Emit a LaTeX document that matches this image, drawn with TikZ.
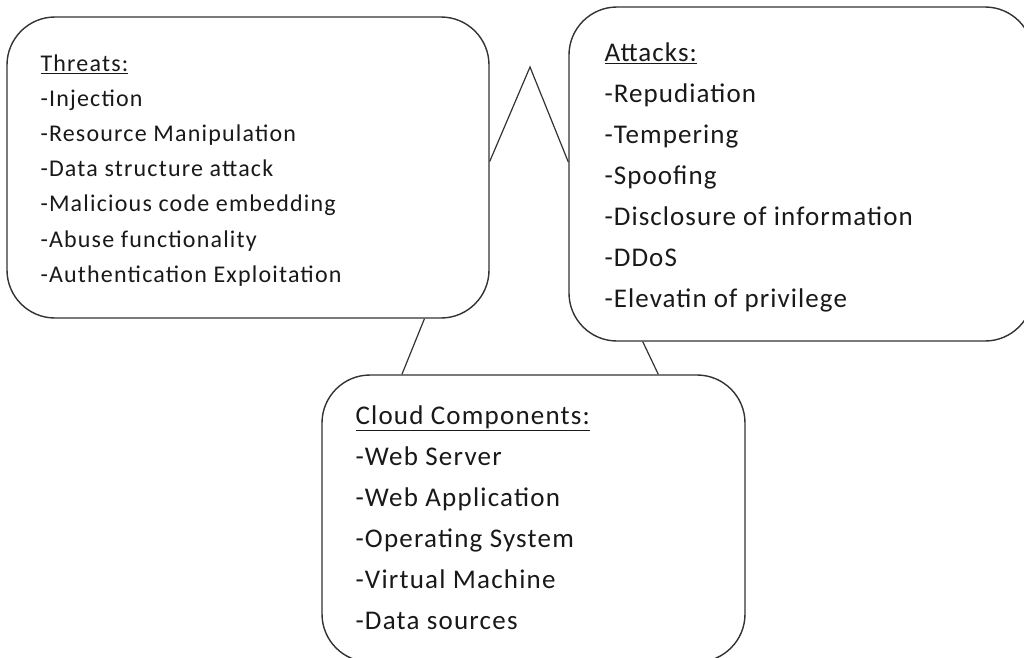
\documentclass[tikz,border=0pt]{standalone}
\usepackage{fontspec}
\setmainfont{Carlito}
\usetikzlibrary{calc,positioning}

\tikzset{
  roundbox/.style={draw=black!80, line width=1.4pt, rounded corners=48pt, fill=white},
  listtext/.style={align=left, inner sep=0pt, text=black!90},
  link/.style={draw=black!80, line width=1.2pt}
}

\begin{document}
\begin{tikzpicture}[x=1pt,y=-1pt]
  \useasboundingbox (0,0) rectangle (1024,657);
  \clip (0,0) rectangle (1024,657);
  % the three boxes
  \node[roundbox, minimum width=482pt, minimum height=301pt] (threats) at (248,167.5) {};
  \node[roundbox, minimum width=464pt, minimum height=334pt] (attacks) at (801,174) {};
  \node[roundbox, minimum width=423pt, minimum height=287pt] (cloud) at (533.5,518.5) {};
  % their lists
  \node[listtext, font=\fontsize{24}{35.2}\selectfont\addfontfeature{LetterSpace=5}, below right=38pt and 34pt of threats.north west] (threatlist)
    {\underline{Threats:}\\ -Injection\\ -Resource Manipulation\\ -Data structure attack\\
     -Malicious code embedding\\ -Abuse functionality\\ -Authentication Exploitation};
  \node[listtext, font=\fontsize{27}{41}\selectfont\addfontfeature{LetterSpace=4}, below right=36pt and 36pt of attacks.north west] (attacklist)
    {\underline{Attacks:}\\ -Repudiation\\ -Tempering\\ -Spoofing\\
     -Disclosure of information\\ -DDoS\\ -Elevatin of privilege};
  \node[listtext, font=\fontsize{27}{41}\selectfont\addfontfeature{LetterSpace=4.5}, below right=31pt and 34pt of cloud.north west] (cloudlist)
    {\underline{Cloud Components:}\\ -Web Server\\ -Web Application\\ -Operating System\\
     -Virtual Machine\\ -Data sources};
  % links
  \coordinate (peak) at (530,67);
  \draw[link] ($(threats.east)+(0,-6)$) -- (peak) -- ($(attacks.west)+(0,-12)$);
  \draw[link] ($(threats.south west)!0.865!(threats.south east)$) -- ($(cloud.north west)!0.19!(cloud.north east)$);
  \draw[link] ($(attacks.south west)!0.16!(attacks.south east)$) -- ($(cloud.north west)!0.794!(cloud.north east)$);
\end{tikzpicture}
\end{document}
